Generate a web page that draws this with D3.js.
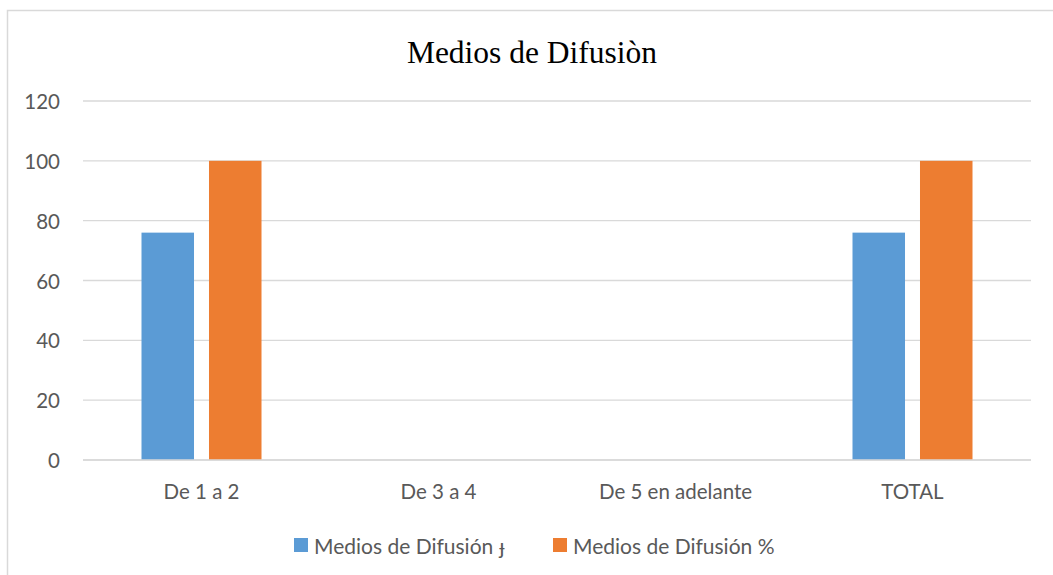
<!DOCTYPE html>
<html>
<head>
<meta charset="utf-8">
<script src="https://cdn.jsdelivr.net/npm/d3@7"></script>
<style>
  body { margin: 0; background: #fff; }
  svg text { font-family: Lato, "Open Sans", sans-serif; }
</style>
</head>
<body>
<svg id="chart" width="1053" height="575"></svg>
<script>
// values
const categories = ["De 1 a 2", "De 3 a 4", "De 5 en adelante", "TOTAL"];
const seriesNames = ["Medios de Difusión \u025F", "Medios de Difusión %"];
const seriesFreq = [76, 0, 0, 76];
const seriesPct = [100, 0, 0, 100];
const yTicks = [0, 20, 40, 60, 80, 100, 120];
const colors = ["#5b9bd5", "#ed7d31"];

const svg = d3.select("#chart");
const margin = { left: 83, right: 22, top: 101, bottom: 115 };
const W = 1053, H = 575;

// outer chart border (only top + left show in the crop)
svg.append("rect")
  .attr("x", 7.5).attr("y", 10.5)
  .attr("width", 1100).attr("height", 700)
  .attr("fill", "none").attr("stroke", "#d9d9d9").attr("stroke-width", 1.5);

const x = d3.scaleBand().domain(categories).range([margin.left, W - margin.right]);
const y = d3.scaleLinear().domain([0, 120]).range([H - margin.bottom, margin.top]);

// inner band for the two series: group of ~120px centred in each category
const groupW = 120;
const x1 = d3.scaleBand().domain([0, 1])
  .range([(x.bandwidth() - groupW) / 2, (x.bandwidth() + groupW) / 2])
  .paddingInner(0.222);

// gridlines
svg.append("g").selectAll("line").data(yTicks).join("line")
  .attr("x1", margin.left).attr("x2", W - margin.right)
  .attr("y1", d => y(d)).attr("y2", d => y(d))
  .attr("stroke", "#d9d9d9").attr("stroke-width", 1.3);

// y labels
svg.append("g").selectAll("text").data(yTicks).join("text")
  .attr("x", 60).attr("y", d => y(d))
  .attr("text-anchor", "end").attr("dominant-baseline", "central")
  .attr("fill", "#595959").style("font-size", "20.5px")
  .text(d => d);

const rows = categories.map((c, i) => ({ c, vals: [seriesFreq[i], seriesPct[i]] }));

const groups = svg.append("g").selectAll("g").data(rows).join("g")
  .attr("transform", d => `translate(${x(d.c)},0)`);

groups.selectAll("rect").data(d => d.vals.map((v, k) => ({ v, k }))).join("rect")
  .attr("x", d => x1(d.k))
  .attr("width", x1.bandwidth())
  .attr("y", d => y(d.v))
  .attr("height", d => y(0) - y(d.v))
  .attr("fill", d => colors[d.k]);

// redraw baseline on top
svg.append("line")
  .attr("x1", margin.left).attr("x2", W - margin.right)
  .attr("y1", y(0)).attr("y2", y(0))
  .attr("stroke", "#d9d9d9").attr("stroke-width", 1.3);

// x labels
svg.append("g").selectAll("text").data(categories).join("text")
  .attr("x", d => x(d) + x.bandwidth() / 2).attr("y", 499)
  .attr("text-anchor", "middle")
  .attr("fill", "#595959").style("font-size", "20.5px")
  .text(d => d);

// title
svg.append("text")
  .attr("x", 532).attr("y", 63)
  .attr("text-anchor", "middle")
  .style("font-family", "'Liberation Serif', 'Times New Roman', serif")
  .style("font-size", "31.5px").attr("fill", "#000")
  .text("Medios de Difusiòn");

// legend
const legendX = [294, 553];
const leg = svg.append("g").selectAll("g").data(seriesNames).join("g")
  .attr("transform", (d, i) => `translate(${legendX[i]},545)`);
leg.append("rect").attr("x", 0).attr("y", -7).attr("width", 14).attr("height", 14)
  .attr("fill", (d, i) => colors[i]);
leg.append("text").attr("x", 20).attr("y", 0)
  .attr("dominant-baseline", "central")
  .attr("fill", "#595959").style("font-size", "21px")
  .text(d => d);
</script>
</body>
</html>
